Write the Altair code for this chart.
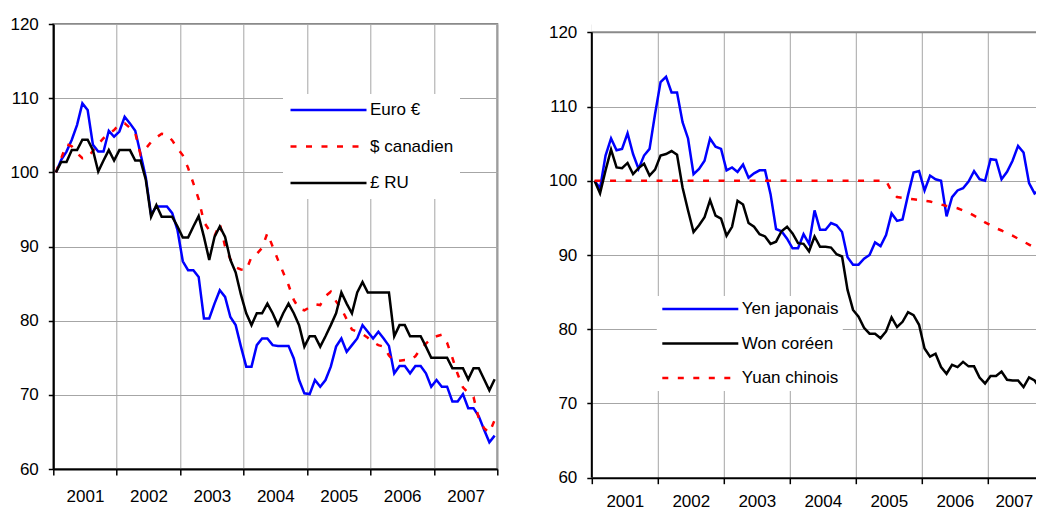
import altair as alt
import pandas as pd

FONT = "Liberation Sans"

# ---- data (monthly index values, Jan 2001 = 100) ----
left_names = ["Euro €", "$ canadien", "£ RU"]
right_names = ["Yen japonais", "Won coréen", "Yuan chinois"]

euro = [
    100.0, 101.7, 102.8, 104.4, 106.4, 109.3, 108.4, 103.7, 102.8, 102.8, 105.6, 104.8,
    105.5, 107.5, 106.6, 105.6, 102.5, 99.3, 94.3, 95.4, 95.4, 95.4, 94.5, 92.2,
    88.0, 86.8, 86.8, 85.9, 80.3, 80.3, 82.3, 84.1, 83.2, 80.5, 79.4, 76.5,
    73.8, 73.8, 76.7, 77.6, 77.6, 76.7, 76.6, 76.6, 76.6, 74.9, 72.0, 70.2,
    70.1, 72.0, 71.1, 72.0, 73.8, 76.5, 77.6, 75.8, 76.7, 77.6, 79.4, 78.5,
    77.6, 78.5, 77.6, 76.6, 72.9, 73.9, 73.9, 72.9, 73.9, 73.9, 72.9, 71.1,
    72.0, 71.1, 71.1, 69.1, 69.1, 70.1, 68.2, 68.2, 67.1, 65.3, 63.6, 64.5]

cad = [
    100.0, 101.9, 103.8, 103.5, 102.6, 101.9, 102.0, 102.9, 103.8, 104.6, 105.2, 105.7,
    106.5, 106.6, 106.0, 105.3, 102.4, 103.2, 104.1, 104.7, 105.2, 105.1, 104.3, 103.2,
    102.3, 100.6, 98.5, 96.4, 93.3, 92.2, 91.4, 93.1, 90.0, 88.3, 87.2, 86.9,
    86.8, 88.6, 89.0, 89.8, 91.8, 90.0, 88.2, 86.5, 84.8, 82.8, 81.6, 81.4,
    81.8, 82.2, 82.1, 83.3, 83.9, 82.6, 81.6, 80.2, 78.8, 78.5, 78.2, 77.7,
    77.1, 76.7, 76.5, 75.3, 74.5, 74.6, 74.7, 74.7, 75.2, 76.2, 76.9, 77.6,
    77.9, 78.1, 77.0, 75.0, 72.8, 71.0, 70.3, 69.7, 66.8, 65.5, 64.9, 66.6]

gbp = [
    100.0, 101.4, 101.4, 103.0, 103.0, 104.4, 104.4, 103.0, 100.1, 101.6, 103.0, 101.6,
    103.0, 103.0, 103.0, 101.6, 101.6, 99.0, 94.0, 95.6, 94.0, 94.0, 94.0, 92.7,
    91.2, 91.2, 92.7, 94.1, 91.3, 88.2, 91.3, 92.7, 91.3, 88.2, 86.5, 83.5,
    81.0, 79.4, 81.0, 81.0, 82.3, 81.0, 79.4, 81.0, 82.3, 81.0, 79.4, 76.5,
    77.9, 77.9, 76.5, 77.9, 79.4, 81.0, 83.8, 82.3, 81.0, 83.8, 85.2, 83.8,
    83.8, 83.8, 83.8, 83.8, 77.9, 79.4, 79.4, 77.9, 77.9, 77.9, 76.5, 75.0,
    75.0, 75.0, 75.0, 73.6, 73.6, 73.6, 72.1, 73.6, 73.6, 72.1, 70.6, 72.1]

yen = [
    100.0, 99.0, 103.4, 105.7, 104.1, 104.3, 106.4, 103.6, 101.6, 103.4, 104.3, 109.0,
    113.3, 114.0, 111.9, 111.9, 107.9, 105.7, 100.9, 101.6, 102.7, 105.7, 104.6, 104.3,
    101.4, 101.8, 101.2, 102.2, 100.4, 101.0, 101.4, 101.4, 98.2, 93.5, 93.2, 92.2,
    90.9, 90.9, 92.8, 91.5, 96.0, 93.4, 93.4, 94.3, 94.0, 93.1, 89.7, 88.7,
    88.7, 89.5, 90.0, 91.7, 91.2, 92.7, 95.6, 94.6, 94.8, 98.1, 101.1, 101.3,
    98.7, 100.7, 100.2, 100.0, 95.2, 97.8, 98.7, 99.0, 99.9, 101.3, 100.2, 100.0,
    102.9, 102.8, 100.2, 101.2, 102.7, 104.7, 103.8, 99.7, 98.3, 98.8, 94.5, 94.0]

won = [
    100.0, 98.3, 101.4, 104.2, 101.8, 101.7, 102.4, 100.9, 101.7, 102.3, 100.7, 101.5,
    103.4, 103.6, 104.0, 103.5, 99.1, 96.0, 93.1, 94.0, 95.1, 97.4, 95.3, 94.9,
    92.6, 93.8, 97.3, 96.8, 94.3, 93.8, 92.8, 92.5, 91.5, 91.8, 93.2, 93.8,
    92.9, 91.6, 91.5, 90.5, 92.5, 91.1, 91.1, 91.0, 90.1, 89.8, 85.3, 82.6,
    81.7, 80.2, 79.4, 79.4, 78.8, 79.7, 81.6, 80.3, 81.0, 82.3, 81.9, 80.6,
    77.4, 76.3, 76.7, 74.9, 74.0, 75.2, 74.9, 75.6, 75.0, 75.0, 73.5, 72.7,
    73.7, 73.7, 74.3, 73.2, 73.1, 73.1, 72.2, 73.5, 73.1, 72.0, 72.0, 72.0]

yuan = [
    100.0, 100.0, 100.0, 100.0, 100.0, 100.0, 100.0, 100.0, 100.0, 100.0, 100.0, 100.0,
    100.0, 100.0, 100.0, 100.0, 100.0, 100.0, 100.0, 100.0, 100.0, 100.0, 100.0, 100.0,
    100.0, 100.0, 100.0, 100.0, 100.0, 100.0, 100.0, 100.0, 100.0, 100.0, 100.0, 100.0,
    100.0, 100.0, 100.0, 100.0, 100.0, 100.0, 100.0, 100.0, 100.0, 100.0, 100.0, 100.0,
    100.0, 100.0, 100.0, 100.0, 100.0, 100.0, 98.6, 97.8, 97.7, 97.6, 97.5, 97.4,
    97.3, 97.2, 97.0, 96.8, 96.6, 96.5, 96.3, 96.0, 95.7, 95.3, 94.9, 94.4,
    94.0, 93.6, 93.3, 92.9, 92.6, 92.2, 91.8, 91.4, 91.0, 90.7, 90.4, 90.1]

year_ticks = [2001, 2002, 2003, 2004, 2005, 2006, 2007, 2008]
y_ticks = [60, 70, 80, 90, 100, 110, 120]

# month positions (mid-month, decimal years)
months = [2001 + (i + 0.5) / 12 for i in range(len(euro))]


def frame(names, series):
    rows = []
    for name, vals in zip(names, series):
        for t, v in zip(months, vals):
            rows.append({"t": t, "v": v, "serie": name})
    return pd.DataFrame(rows)


df_left = frame(left_names, [euro, cad, gbp])
df_right = frame(right_names, [yen, won, yuan])

GRID = "#a6a6a6"
BORDER = "#8a8a8a"
SOLID = []
DASH = [6, 9.5]

LW, LH = 444, 445
RW = 462
RH_REF = 445.4
RH = 453.7
R_TOP = 60 + RH * 60 / RH_REF

SVG_W, SVG_H = 1028, 503
PAD_L, PAD_T = 45.3, 16


def x_axis(offset, lab_pad):
    return alt.Axis(values=year_ticks, title=None, format="d",
                    labelExpr="datum.value >= 2008 ? '' : datum.label",
                    labelOffset=offset, grid=True, gridColor=GRID, gridWidth=1,
                    tickSize=6, tickColor="black", tickWidth=1.5,
                    domainColor="black", domainWidth=2,
                    labelPadding=lab_pad, labelFlush=False, labelOverlap=False,
                    labelFontSize=17, labelFont=FONT, labelColor="black")


def y_axis(show_domain):
    return alt.Axis(values=y_ticks, title=None, grid=True, gridColor=GRID, gridWidth=1,
                    tickSize=5, tickColor="black", tickWidth=1.5,
                    domain=show_domain, domainColor="black", domainWidth=2,
                    labelPadding=10, labelFontSize=17, labelFont=FONT,
                    labelColor="black")


def legend(lx, ly, pad, rowpad, clip_h):
    return alt.Legend(orient="none", legendX=lx, legendY=ly, title=None,
                      fillColor="white", padding=pad, symbolType="stroke",
                      symbolSize=5776, symbolStrokeWidth=2.5, clipHeight=clip_h,
                      rowPadding=rowpad, labelOffset=2, labelFontSize=17,
                      labelFont=FONT, labelColor="black")


# ---------------- left panel ----------------
leg_l = legend(229.7, 70, 6, 16.5, 20)
left = alt.Chart(df_left).mark_line(strokeWidth=2.5, clip=True).encode(
    x=alt.X("t:Q", scale=alt.Scale(domain=[2001, 2008], nice=False, zero=False),
            axis=x_axis(LW / 14.0, 13)),
    y=alt.Y("v:Q", scale=alt.Scale(domain=[60, 120], nice=False, zero=False),
            axis=y_axis(True)),
    color=alt.Color("serie:N", scale=alt.Scale(domain=left_names,
                    range=["#0000ff", "#ff0000", "#000000"]), legend=leg_l),
    strokeDash=alt.StrokeDash("serie:N", scale=alt.Scale(domain=left_names,
                              range=[SOLID, DASH, SOLID]), legend=leg_l),
).properties(width=LW, height=LH,
             view=alt.ViewBackground(stroke=BORDER, strokeWidth=2))

# ---------------- right panel ----------------
leg_r = legend(65, 272, 4, 16.5, 18)
yscale_r = alt.Scale(domain=[60, R_TOP], nice=False, zero=False)
x_ax_r = x_axis(33, 10)
x_ax_r["labelOffset"] = {"condition": {"test": "datum.value >= 2007", "value": 26},
                         "value": 33}
right_lines = alt.Chart(df_right).mark_line(strokeWidth=2.5, clip=True).encode(
    x=alt.X("t:Q", scale=alt.Scale(domain=[2001, 2008], nice=False, zero=False),
            axis=x_ax_r),
    y=alt.Y("v:Q", scale=yscale_r, axis=y_axis(False)),
    color=alt.Color("serie:N", scale=alt.Scale(domain=right_names,
                    range=["#0000ff", "#000000", "#ff0000"]), legend=leg_r),
    strokeDash=alt.StrokeDash("serie:N", scale=alt.Scale(domain=right_names,
                              range=[SOLID, SOLID, DASH]), legend=leg_r),
)
one = pd.DataFrame({"k": [0]})
cover = alt.Chart(one).mark_rect(color="white").encode(
    x=alt.value(0), x2=alt.value(RW), y=alt.datum(120), y2=alt.value(0))
top_border = alt.Chart(one).mark_rule(color=BORDER, strokeWidth=2).encode(
    x=alt.value(0), x2=alt.value(RW), y=alt.datum(120))
y_domain = alt.Chart(one).mark_rule(color="black", strokeWidth=2).encode(
    x=alt.value(0), y=alt.datum(60), y2=alt.datum(120))

right = alt.layer(cover, right_lines, top_border, y_domain).properties(
    width=RW, height=RH, view=alt.ViewBackground(strokeWidth=0))

chart = alt.hconcat(left, right, spacing=17.5).resolve_scale(
    x="independent", y="independent", color="independent", strokeDash="independent"
).resolve_legend(color="independent", strokeDash="independent").properties(
    autosize=alt.AutoSizeParams(type="none"),
    padding={"left": PAD_L, "top": PAD_T, "right": SVG_W - PAD_L, "bottom": SVG_H - PAD_T},
).configure(font=FONT).configure_view(strokeWidth=0)

chart.save("out.html", embed_options={"renderer": "svg", "actions": False})
